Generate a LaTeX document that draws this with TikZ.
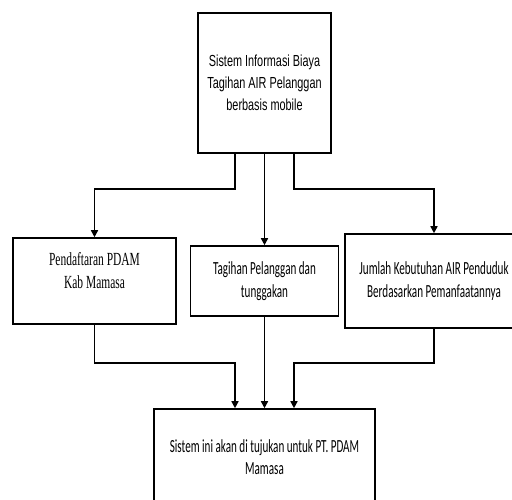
\documentclass[tikz,border=0pt]{standalone}
\usepackage{fontspec}
\usetikzlibrary{arrows.meta}
\newfontfamily\topfont[FakeStretch=0.68]{Liberation Sans}
\newfontfamily\leftfont[FakeStretch=0.62]{Liberation Serif}
\newfontfamily\bodyfont[FakeStretch=0.6]{Carlito}

\begin{document}
\begin{tikzpicture}[x=1pt,y=-1pt,box/.style={draw,line width=1.6pt,align=center,inner sep=0pt},link/.style={line width=1.6pt,-{Triangle[length=7pt,width=7pt]}}]
\useasboundingbox (0,0) rectangle (512,499);
\clip (0,0) rectangle (512,499);
\node[box,minimum width=133pt,minimum height=140pt,font=\topfont\fontsize{16}{22}\selectfont] (sistem) at (264.5,83) {Sistem Informasi Biaya\\Tagihan AIR Pelanggan\\berbasis mobile};
\node[box,minimum width=163pt,minimum height=86pt,text depth=21pt,font=\leftfont\fontsize{18.5}{23}\selectfont] (daftar) at (94.5,281) {Pendaftaran PDAM\\Kab Mamasa};
\node[box,minimum width=148pt,minimum height=70pt,font=\bodyfont\fontsize{18.5}{22.5}\selectfont] (tagihan) at (264.5,281) {Tagihan Pelanggan dan\\tunggakan};
\node[box,minimum width=178pt,minimum height=94pt,font=\bodyfont\fontsize{18.5}{22.5}\selectfont] (jumlah) at (434,281) {Jumlah Kebutuhan AIR Penduduk\\Berdasarkan Pemanfaatannya};
\node[box,minimum width=221pt,minimum height=96pt,font=\bodyfont\fontsize{18.5}{22}\selectfont] (tujuan) at (264.5,457) {Sistem ini akan di tujukan untuk PT. PDAM\\Mamasa};
\draw[link] ([xshift=-29.5pt]sistem.south) -- ++(0,35) -| (daftar.north);
\draw[link] (sistem.south) -- (tagihan.north);
\draw[link] ([xshift=29.5pt]sistem.south) -- ++(0,35) -| (jumlah.north);
\draw[link] (daftar.south) -- ++(0,38) -| ([xshift=-29.5pt]tujuan.north);
\draw[link] (tagihan.south) -- (tujuan.north);
\draw[link] (jumlah.south) -- ++(0,34) -| ([xshift=29.5pt]tujuan.north);
\end{tikzpicture}
\end{document}
